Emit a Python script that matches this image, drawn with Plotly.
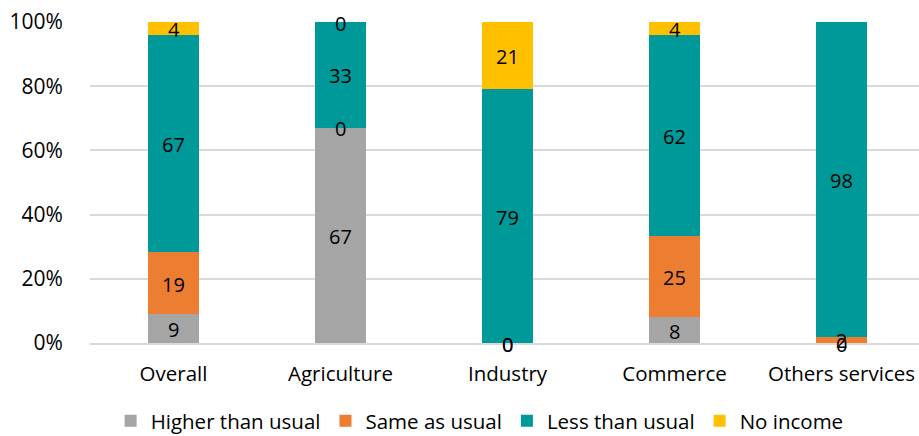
import plotly.graph_objects as go

categories = ["Overall", "Agriculture", "Industry", "Commerce", "Others services"]
series_names = ["Higher than usual", "Same as usual", "Less than usual", "No income"]
higher = [9, 67, 0, 8, 0]
same = [19, 0, 0, 25, 2]
less = [67, 33, 79, 62, 98]
no_income = [4, 0, 21, 4, None]
colors = ["#A5A5A5", "#ED7D31", "#009999", "#FFC000"]
y_ticks = [0, 20, 40, 60, 80, 100]
y_tick_labels = ["0%", "20%", "40%", "60%", "80%", "100%"]

series = [higher, same, less, no_income]
FONT = "Open Sans"

fig = go.Figure()
for name, vals, col in zip(series_names, series, colors):
    fig.add_trace(go.Bar(
        x=categories, y=vals, name=name, marker=dict(color=col, line=dict(width=0)),
        width=0.31, hoverinfo="skip"))

# data labels centred in each stacked segment (including zero-height ones)
annotations = []
for i, cat in enumerate(categories):
    vals = [s[i] for s in series]
    total = sum(v for v in vals if v is not None)
    cum = 0
    for v in vals:
        if v is None:
            continue
        mid = (cum + v / 2) / total * 100
        annotations.append(dict(x=cat, y=mid, xref="x", yref="y", text=str(v),
                                showarrow=False, font=dict(family=FONT, size=20, color="#000000"),
                                yshift=-1))
        cum += v

fig.update_layout(
    barmode="stack", barnorm="percent",
    width=919, height=436,
    margin=dict(l=90, r=0, t=22, b=93, autoexpand=False),
    paper_bgcolor="white", plot_bgcolor="white",
    font=dict(family=FONT, size=20, color="#000000"),
    annotations=annotations,
    legend=dict(orientation="h", x=0.47, xanchor="center", y=-0.243, yanchor="middle",
                font=dict(family=FONT, size=20.5, color="#000000"), traceorder="normal",
                itemwidth=30),
    xaxis=dict(range=[-0.5, 4.464], showgrid=False, showline=True, linecolor="#D9D9D9", linewidth=2,
               ticks="outside", ticklen=11, tickcolor="rgba(0,0,0,0)",
               tickfont=dict(family=FONT, size=20.5, color="#000000")),
    yaxis=dict(range=[0, 100], tickvals=y_ticks, ticktext=y_tick_labels, showgrid=True,
               gridcolor="#D9D9D9", gridwidth=2, zeroline=False, showline=False,
               ticks="outside", ticklen=22, tickcolor="rgba(0,0,0,0)",
               tickfont=dict(family=FONT, size=21, color="#000000")),
    showlegend=True,
)

fig.write_html("out.html")
